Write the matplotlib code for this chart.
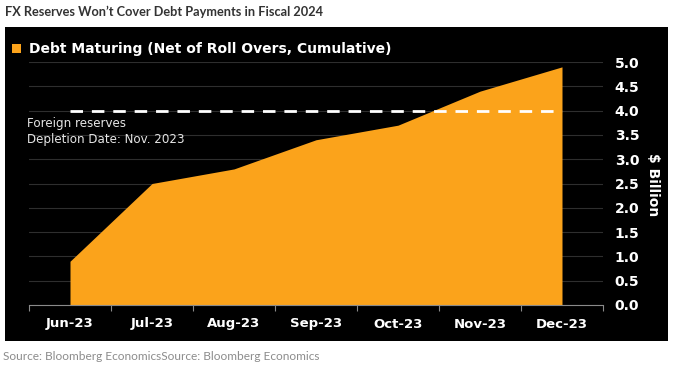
import matplotlib.pyplot as plt
from matplotlib.patches import Rectangle
import numpy as np

# -------------------------------------------------
# Data
# -------------------------------------------------
months = ["Jun-23", "Jul-23", "Aug-23", "Sep-23", "Oct-23", "Nov-23", "Dec-23"]
debt_maturing = [0.9, 2.5, 2.8, 3.4, 3.7, 4.4, 4.9]
reserves_level = 4.0
y_ticks = [0.0, 0.5, 1.0, 1.5, 2.0, 2.5, 3.0, 3.5, 4.0, 4.5, 5.0]

orange = "#FBA31B"
W, H = 673, 366

fig = plt.figure(figsize=(W / 100, H / 100), dpi=100)
fig.patch.set_facecolor("white")

# black panel behind the chart
fig.patches.append(Rectangle((5 / W, 1 - 341 / H), 663 / W, 314 / H,
                             transform=fig.transFigure, facecolor="black",
                             edgecolor="none", zorder=-1))

ax = fig.add_axes([29 / W, 1 - 305 / H, 574 / W, 243 / H])
ax.set_zorder(1)
ax.set_facecolor("black")

x = np.arange(len(months))
ax.fill_between(x, 0, debt_maturing, color=orange, linewidth=0, zorder=2)
ax.plot([x[0], x[-1]], [reserves_level, reserves_level], color="white",
        linewidth=2, dashes=(4.5, 3.2), zorder=3)

ax.set_xlim(-0.5, len(months) - 0.5)
ax.set_ylim(0, 5.0)

# axes styling
for s in ["top", "left", "right"]:
    ax.spines[s].set_visible(False)
ax.spines["bottom"].set_color("#8a8a8a")
ax.spines["bottom"].set_linewidth(0.8)

ax.set_xticks(x)
ax.set_xticklabels(months)
ax.set_xticks(np.arange(-0.5, len(months)), minor=True)
ax.tick_params(axis="x", which="major", length=0, pad=9,
               labelsize=9.5, labelcolor="white")
ax.tick_params(axis="x", which="minor", length=4, width=0.8, color="#8a8a8a")
for t in ax.get_xticklabels():
    t.set_fontweight("bold")

ax.yaxis.tick_right()
ax.set_yticks(y_ticks)
ax.set_yticklabels([f"{v:.1f}" for v in y_ticks])
ax.tick_params(axis="y", length=0, pad=8.5, labelsize=10, labelcolor="white")
for t in ax.get_yticklabels():
    t.set_fontweight("bold")
ax.grid(axis="y", color="#2e2e2e", linewidth=0.8, zorder=1)
ax.set_axisbelow(True)

# "$ Billion" label on the right
fig.text(653 / W, 1 - 185 / H, "$ Billion", rotation=270, color="white",
         fontsize=10, fontweight="bold", ha="center", va="center")

# legend
fig.patches.append(Rectangle((12 / W, 1 - 53 / H), 9 / W, 9 / H,
                             transform=fig.transFigure, facecolor=orange,
                             edgecolor="none", zorder=2))
fig.text(29 / W, 1 - 48.5 / H, "Debt Maturing (Net of Roll Overs, Cumulative)",
         color="white", fontsize=10, fontweight="bold", va="center", zorder=3)

# annotation
fig.text(27 / W, 1 - 124 / H, "Foreign reserves", color="#e6e6e6",
         fontsize=8.6, va="center", zorder=3)
fig.text(27 / W, 1 - 140 / H, "Depletion Date: Nov. 2023", color="#e6e6e6",
         fontsize=8.6, va="center", zorder=3)

# title and source
fig.text(5 / W, 1 - 12 / H, "FX Reserves Won\u2019t Cover Debt Payments in Fiscal 2024",
         color="#333333", fontsize=9.2, fontweight="bold", family="Lato",
         va="center")
fig.text(3 / W, 1 - 356 / H, "Source: Bloomberg EconomicsSource: Bloomberg Economics",
         color="#8c8c8c", fontsize=8.6, family="Lato", va="center")

plt.savefig("out.png", dpi=100)
